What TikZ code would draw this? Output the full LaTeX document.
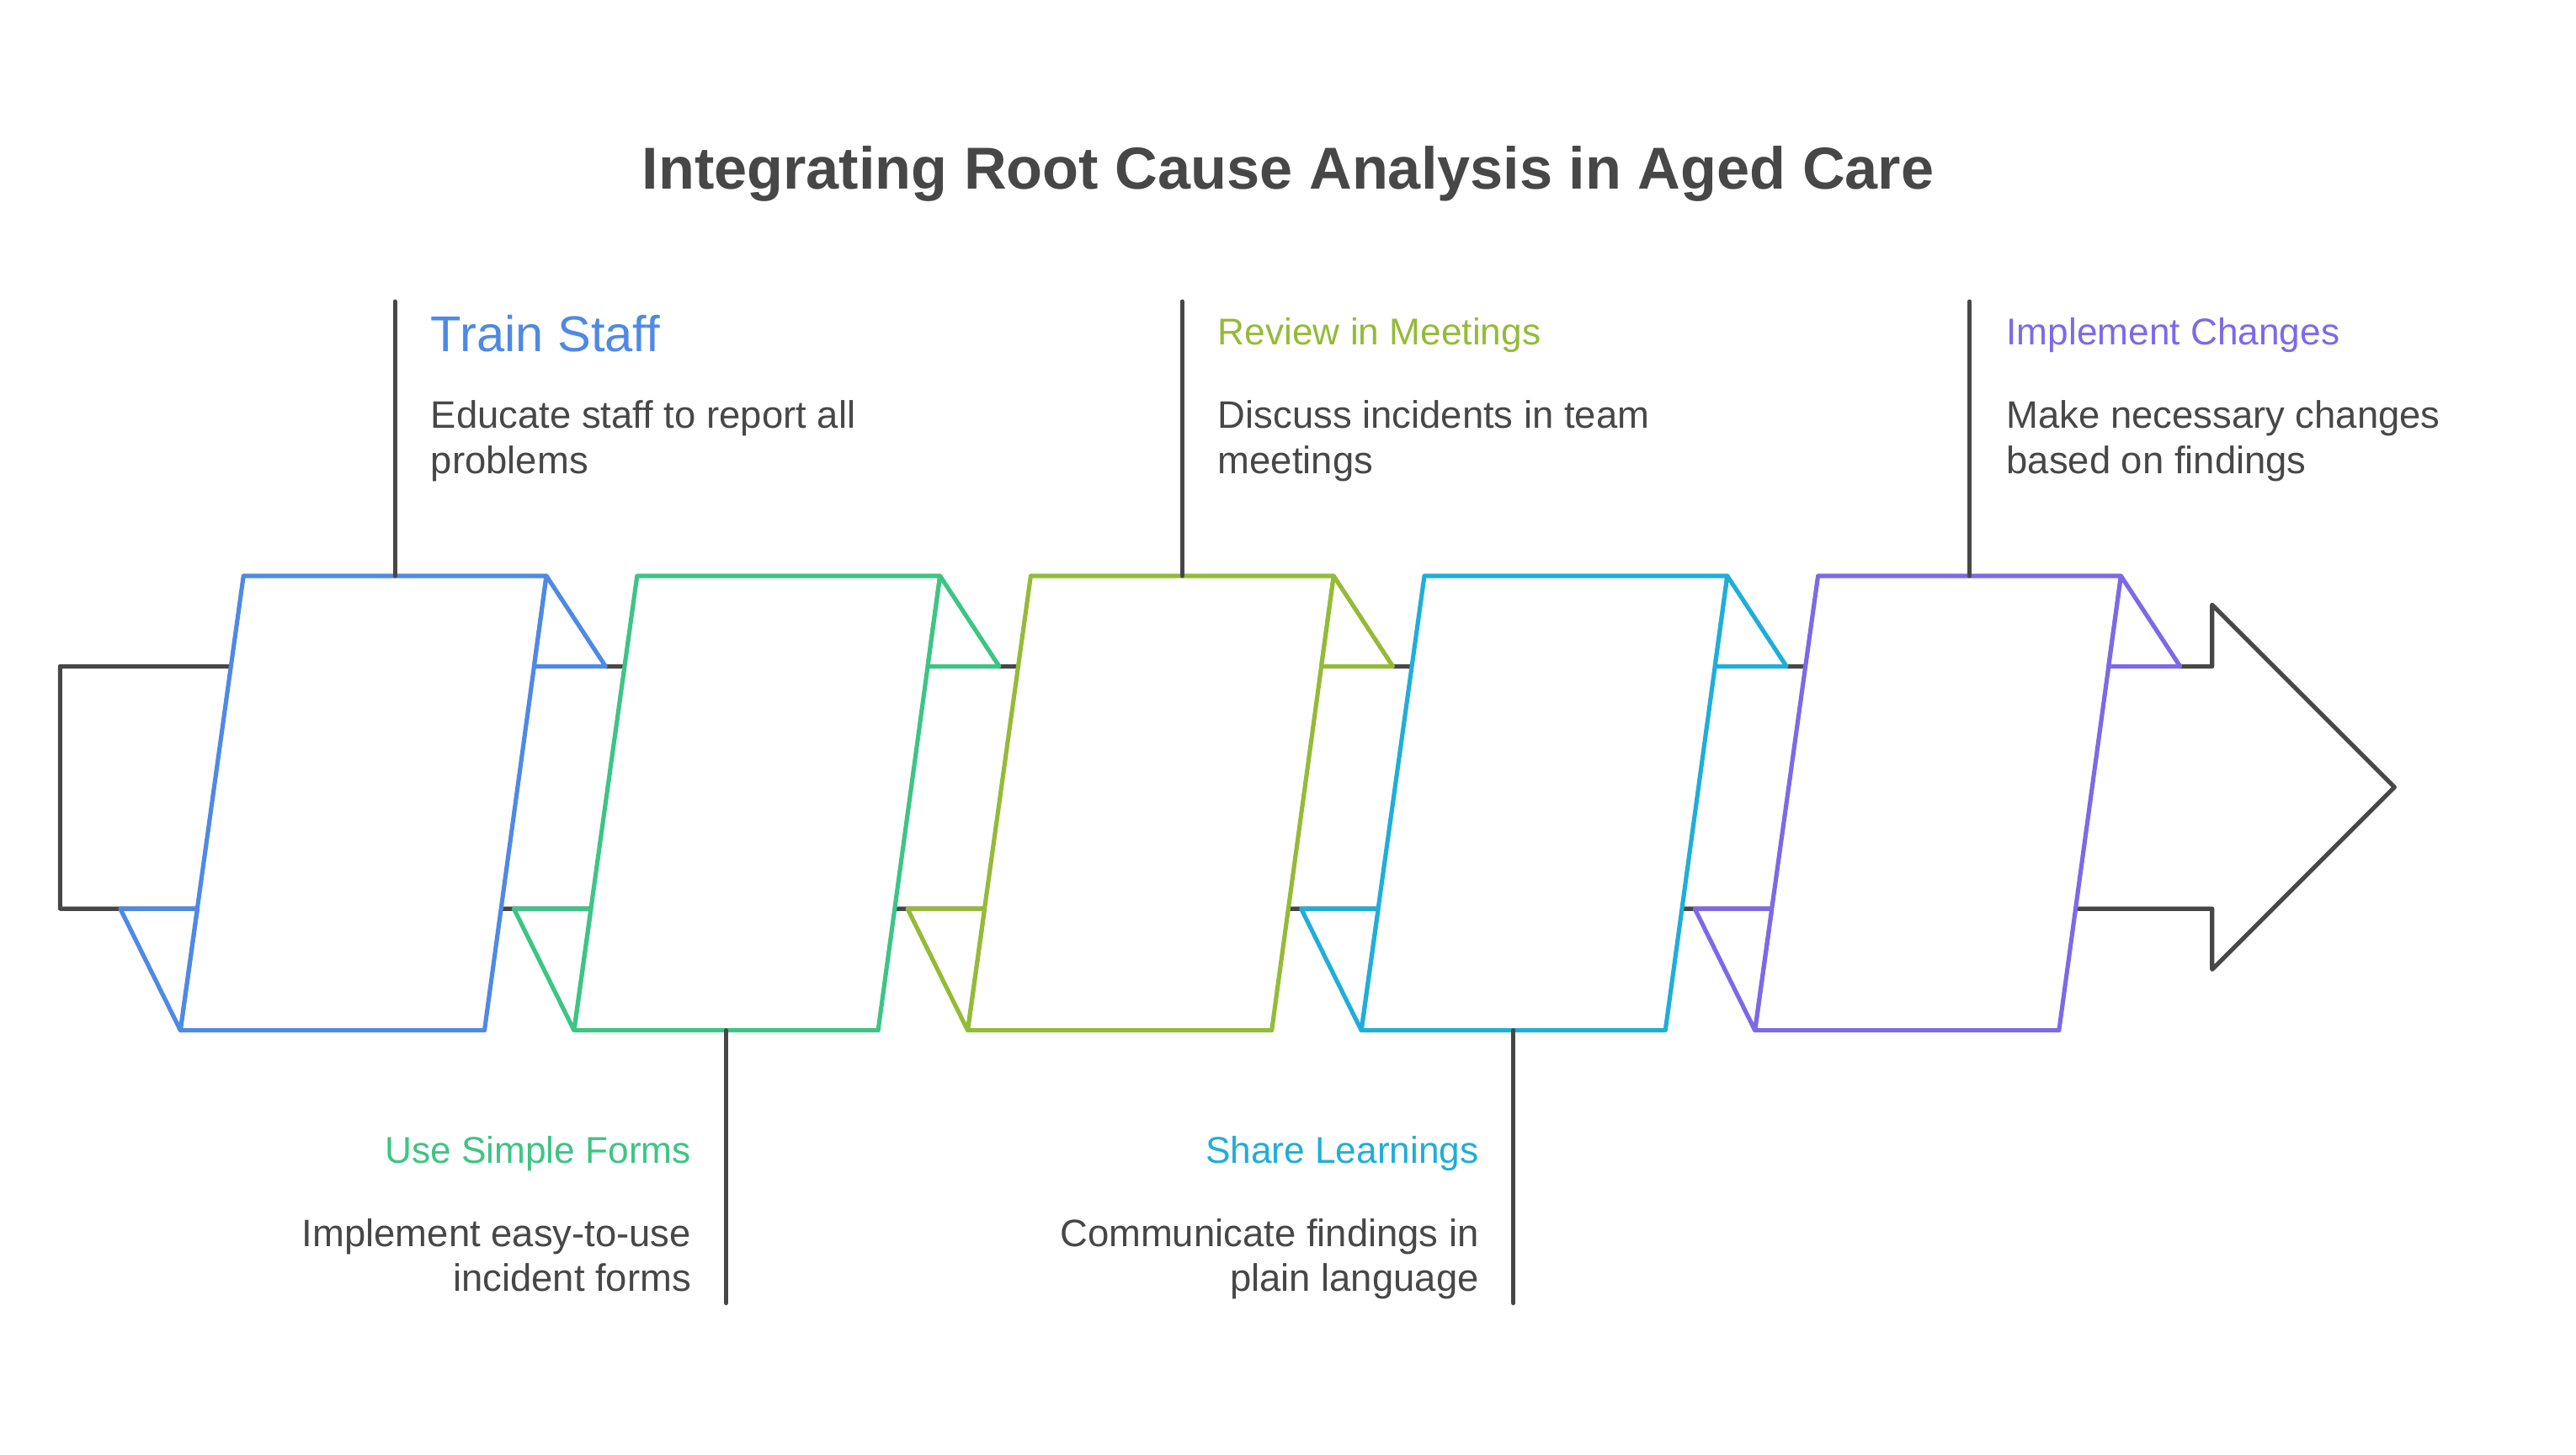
\documentclass[tikz,border=0pt]{standalone}
\usepackage{fontspec}
\setmainfont{Liberation Sans}
\usetikzlibrary{calc}
\definecolor{cblue}{HTML}{4E89E6}
\definecolor{cgreen}{HTML}{3CC584}
\definecolor{colive}{HTML}{94BB37}
\definecolor{ccyan}{HTML}{1FAED9}
\definecolor{cpurple}{HTML}{7F68E8}
\definecolor{cgray}{HTML}{474747}
\tikzset{
  lw/.style={line width=1.5pt, line join=round, line cap=round},
  band/.style={lw, draw=cgray},
  panel/.style={lw, draw=#1, fill=white},
  tickline/.style={lw, draw=cgray},
  stitle/.style={inner sep=0pt, text=#1, font=\fontsize{12.9}{15.65}\selectfont},
  sdesc/.style={inner sep=0pt, text=cgray, font=\fontsize{13.25}{15.65}\selectfont},
}
\begin{document}
\begin{tikzpicture}[x=0.02cm,y=-0.02cm]
\useasboundingbox (0,0) rectangle (1568,885.46);
\fill[white] (0,0) rectangle (1568,885.46);

% title
\node[anchor=base, inner sep=0pt, text=cgray, font=\fontsize{20.5}{24}\selectfont\bfseries] (title) at (784,114.8) {Integrating Root Cause Analysis in Aged Care};

% central band and arrow
\coordinate (aTop) at (1346.5,405.5);
\coordinate (aBot) at (1346.5,553);
\coordinate (lTop) at (36.6,405.5);
\coordinate (lBot) at (36.6,553);
\coordinate (hTop) at (1346.5,368);
\coordinate (hBot) at (1346.5,590);
\coordinate (tip) at (1457.5,479);
\draw[band] (aTop) -- (lTop) -- (lBot) -- (aBot) -- (hBot) -- (tip) -- (hTop) -- cycle;

% panels
\foreach \i/\c in {0/cblue,1/cgreen,2/colive,3/ccyan,4/cpurple}{
  \pgfmathsetmacro{\dx}{239.6*\i}
  \coordinate (tl\i) at (148.2+\dx,350.5);
  \coordinate (tr\i) at (332.6+\dx,350.5);
  \coordinate (br\i) at (294.9+\dx,627);
  \coordinate (bl\i) at (109.8+\dx,627);
  \coordinate (re\i) at ($(tr\i)!0.1989!(br\i)$);
  \coordinate (le\i) at ($(tl\i)!0.7324!(bl\i)$);
  \coordinate (uf\i) at (368.6+\dx,405.5);
  \coordinate (lf\i) at (73.2+\dx,553);
  \coordinate (tc\i) at ($(tl\i)!0.5!(tr\i)$);
  \coordinate (bc\i) at ($(bl\i)!0.5!(br\i)$);
  \draw[panel=\c] (tl\i) -- (tr\i) -- (br\i) -- (bl\i) -- cycle;
  \draw[panel=\c] (tr\i) -- (uf\i) -- (re\i) -- cycle;
  \draw[panel=\c] (lf\i) -- (bl\i) -- (le\i) -- cycle;
}

% ticks
\foreach \i in {0,2,4}{
  \coordinate (tt\i) at ($(tc\i)+(0,-167)$);
  \draw[tickline] (tc\i) -- (tt\i);
}
\foreach \i in {1,3}{
  \coordinate (bb\i) at ($(bc\i)+(0,166)$);
  \draw[tickline] (bc\i) -- (bb\i);
}

% texts top
\node[stitle=cblue, font=\fontsize{17.4}{20}\selectfont, anchor=base west] (t0) at (262,214) {Train Staff};
\node[sdesc, anchor=base west] (d0) at (262,260.5) {\begin{tabular}[t]{@{}l@{}}Educate staff to report all\\problems\end{tabular}};

\node[stitle=colive, anchor=base west] (t2) at (741,210) {Review in Meetings};
\node[sdesc, anchor=base west] (d2) at (741,260.5) {\begin{tabular}[t]{@{}l@{}}Discuss incidents in team\\meetings\end{tabular}};

\node[stitle=cpurple, anchor=base west] (t4) at (1221,210) {Implement Changes};
\node[sdesc, anchor=base west] (d4) at (1221,260.5) {\begin{tabular}[t]{@{}l@{}}Make necessary changes\\based on findings\end{tabular}};

% texts bottom
\node[stitle=cgreen, anchor=base east] (t1) at (421,708) {Use Simple Forms};
\node[sdesc, anchor=base east] (d1) at (421,758.4) {\begin{tabular}[t]{@{}r@{}}Implement easy-to-use\\incident forms\end{tabular}};

\node[stitle=ccyan, anchor=base east] (t3) at (900.5,708) {Share Learnings};
\node[sdesc, anchor=base east] (d3) at (900.5,758.4) {\begin{tabular}[t]{@{}r@{}}Communicate findings in\\plain language\end{tabular}};
\end{tikzpicture}
\end{document}
